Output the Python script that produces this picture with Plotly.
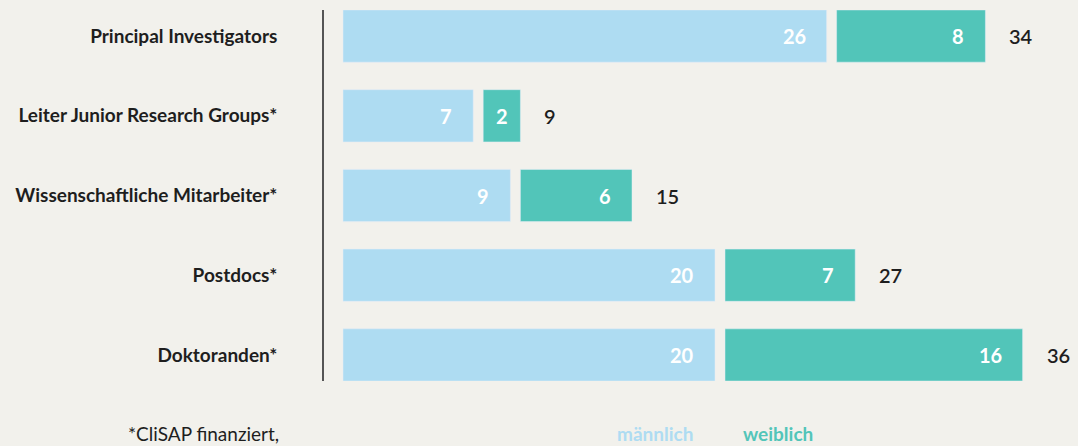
import plotly.graph_objects as go

categories = ["Principal Investigators", "Leiter Junior Research Groups*",
              "Wissenschaftliche Mitarbeiter*", "Postdocs*", "Doktoranden*"]
maennlich = [26, 7, 9, 20, 20]
weiblich = [8, 2, 6, 7, 16]
totals = [m + w for m, w in zip(maennlich, weiblich)]

BG = "#f2f1ec"
BLUE = "#aedcf2"
TEAL = "#52c5b9"
DARK = "#1e1e1e"
FONT = "Lato"

W, H = 1078, 446
ML, MR, MT, MB = 324, 0, 10, 65
PX_PER_UNIT = 18.6
ZERO_PX = 343
GAP_PX = 10
gap_units = GAP_PX / PX_PER_UNIT
xmin = -(ZERO_PX - ML) / PX_PER_UNIT
xmax = xmin + (W - ML - MR) / PX_PER_UNIT

female_base = [m + gap_units for m in maennlich]

fig = go.Figure()
fig.add_trace(go.Bar(y=categories, x=maennlich, orientation="h", marker_color=BLUE,
                     width=0.655, name="männlich", hoverinfo="x+y"))
fig.add_trace(go.Bar(y=categories, x=weiblich, base=female_base, orientation="h",
                     marker_color=TEAL, width=0.655, name="weiblich", hoverinfo="x+y"))


def inside_label(start, length, cat):
    small = length * PX_PER_UNIT < 50
    return dict(x=start + (length / 2 if small else length), y=cat,
                text=f"<b>{int(length)}</b>", showarrow=False,
                xanchor="center" if small else "right",
                xshift=0 if small else -19,
                font=dict(family=FONT, size=20, color="white"))


ann = []
for c, m, w, b, t in zip(categories, maennlich, weiblich, female_base, totals):
    ann.append(inside_label(0, m, c))
    ann.append(inside_label(b, w, c))
    ann.append(dict(x=b + w, y=c, text=f"{t}", showarrow=False, xanchor="left",
                    xshift=22, font=dict(family=FONT, size=20, color=DARK, weight=600)))

footer = [
    (281, "*CliSAP finanziert,", "right", DARK, 400),
    (615, "männlich", "left", BLUE, 700),
    (741, "weiblich", "left", TEAL, 700),
]
for px, txt, anchor, col, wt in footer:
    ann.append(dict(xref="paper", yref="paper",
                    x=(px - ML) / (W - ML - MR),
                    y=-(433 - (H - MB)) / (H - MT - MB),
                    text=txt, showarrow=False, xanchor=anchor, yanchor="middle",
                    font=dict(family=FONT, size=19, color=col, weight=wt)))

fig.update_layout(
    width=W, height=H,
    margin=dict(l=ML, r=MR, t=MT, b=MB),
    paper_bgcolor=BG, plot_bgcolor=BG,
    barmode="overlay", showlegend=False,
    annotations=ann,
    xaxis=dict(range=[xmin, xmax], visible=False, fixedrange=True),
    yaxis=dict(range=[4.327, -0.327], showline=True, linecolor="#555555", linewidth=1.5,
               showgrid=False, ticks="outside", ticklen=41, tickcolor=BG,
               tickfont=dict(family=FONT, size=19, color=DARK, weight="bold"),
               fixedrange=True),
)
fig.write_html("out.html", config={"displayModeBar": False},
               post_script="document.body.style.margin='0';document.body.style.background='%s';" % BG)
